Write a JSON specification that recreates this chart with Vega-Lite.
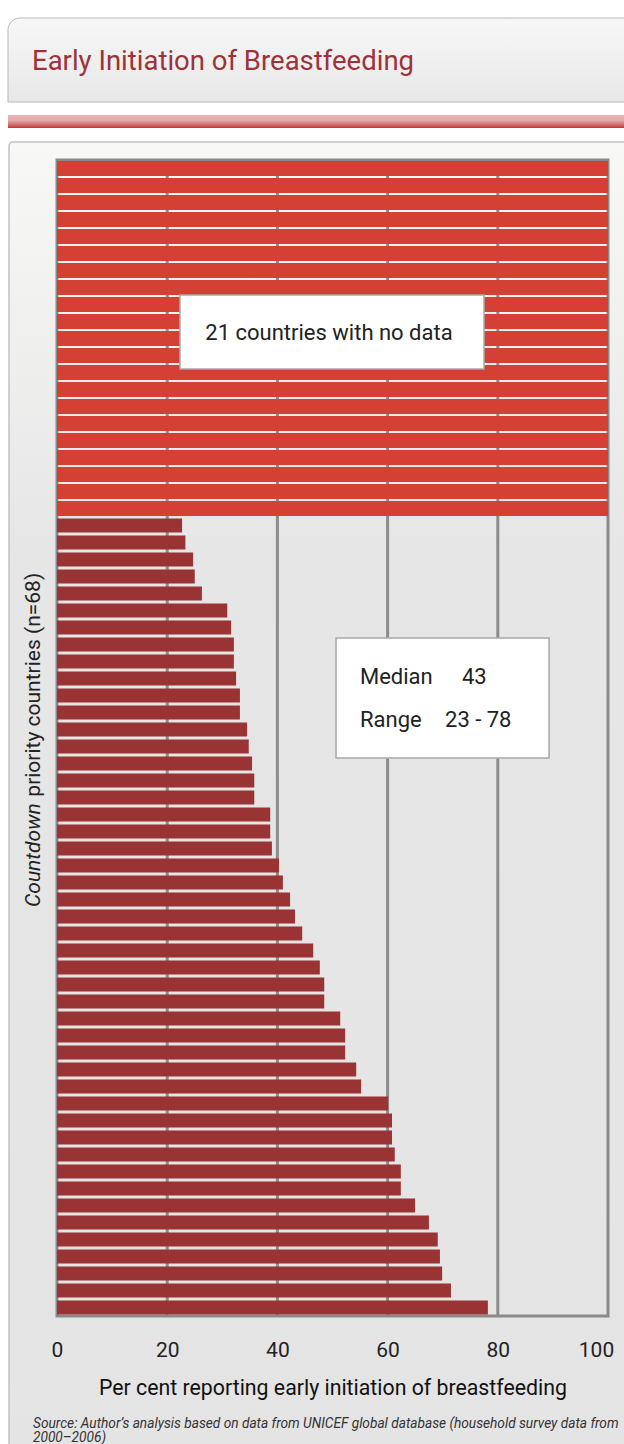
{
  "$schema": "https://vega.github.io/schema/vega-lite/v6.json",
  "width": 551,
  "height": 1156,
  "autosize": {"type": "none"},
  "padding": {"left": 57, "top": 160, "right": 16, "bottom": 128},
  "background": "#ffffff",
  "config": {
    "view": {"stroke": null},
    "font": "Roboto",
    "axisY": {"disable": true},
    "scale": {"continuousPadding": 0}
  },
  "datasets": {
    "countries": [
      {"rank": 1, "value": null}, {"rank": 2, "value": null}, {"rank": 3, "value": null},
      {"rank": 4, "value": null}, {"rank": 5, "value": null}, {"rank": 6, "value": null},
      {"rank": 7, "value": null}, {"rank": 8, "value": null}, {"rank": 9, "value": null},
      {"rank": 10, "value": null}, {"rank": 11, "value": null}, {"rank": 12, "value": null},
      {"rank": 13, "value": null}, {"rank": 14, "value": null}, {"rank": 15, "value": null},
      {"rank": 16, "value": null}, {"rank": 17, "value": null}, {"rank": 18, "value": null},
      {"rank": 19, "value": null}, {"rank": 20, "value": null}, {"rank": 21, "value": null},
      {"rank": 22, "value": 22.7}, {"rank": 23, "value": 23.3}, {"rank": 24, "value": 24.7},
      {"rank": 25, "value": 25.0}, {"rank": 26, "value": 26.3}, {"rank": 27, "value": 30.9},
      {"rank": 28, "value": 31.6}, {"rank": 29, "value": 32.1}, {"rank": 30, "value": 32.1},
      {"rank": 31, "value": 32.5}, {"rank": 32, "value": 33.2}, {"rank": 33, "value": 33.2},
      {"rank": 34, "value": 34.5}, {"rank": 35, "value": 34.8}, {"rank": 36, "value": 35.4},
      {"rank": 37, "value": 35.8}, {"rank": 38, "value": 35.8}, {"rank": 39, "value": 38.7},
      {"rank": 40, "value": 38.7}, {"rank": 41, "value": 39.0}, {"rank": 42, "value": 40.3},
      {"rank": 43, "value": 41.0}, {"rank": 44, "value": 42.3}, {"rank": 45, "value": 43.2},
      {"rank": 46, "value": 44.5}, {"rank": 47, "value": 46.5}, {"rank": 48, "value": 47.7},
      {"rank": 49, "value": 48.5}, {"rank": 50, "value": 48.5}, {"rank": 51, "value": 51.4},
      {"rank": 52, "value": 52.3}, {"rank": 53, "value": 52.3}, {"rank": 54, "value": 54.3},
      {"rank": 55, "value": 55.2}, {"rank": 56, "value": 60.1}, {"rank": 57, "value": 60.8},
      {"rank": 58, "value": 60.8}, {"rank": 59, "value": 61.3}, {"rank": 60, "value": 62.4},
      {"rank": 61, "value": 62.4}, {"rank": 62, "value": 65.0}, {"rank": 63, "value": 67.5},
      {"rank": 64, "value": 69.1}, {"rank": 65, "value": 69.5}, {"rank": 66, "value": 69.9},
      {"rank": 67, "value": 71.5}, {"rank": 68, "value": 78.2}
    ],
    "grid": [{"tick": 20}, {"tick": 40}, {"tick": 60}, {"tick": 80}],
    "one": [{}]
  },
  "layer": [
    {
      "data": {"name": "one"},
      "mark": {
        "type": "rect",
        "stroke": "#b8b8b8",
        "strokeWidth": 1,
        "cornerRadiusTopLeft": 12,
        "fill": {
          "gradient": "linear", "x1": 0, "y1": 0, "x2": 0, "y2": 1,
          "stops": [{"offset": 0, "color": "#f7f7f7"}, {"offset": 1, "color": "#e8e8e8"}]
        }
      },
      "encoding": {
        "x": {"datum": -8.894}, "x2": {"datum": 110},
        "y": {"datum": -7.853, "axis": null}, "y2": {"datum": -2.912}
      }
    },
    {
      "data": {"name": "one"},
      "mark": {
        "type": "rect",
        "fill": {
          "gradient": "linear", "x1": 0, "y1": 0, "x2": 0, "y2": 1,
          "stops": [
            {"offset": 0, "color": "#e8b5b5"},
            {"offset": 0.4, "color": "#e3abab"},
            {"offset": 0.75, "color": "#d06a6a"},
            {"offset": 1, "color": "#c43535"}
          ]
        }
      },
      "encoding": {
        "x": {"datum": -8.894}, "x2": {"datum": 110},
        "y": {"datum": -2.147, "axis": null}, "y2": {"datum": -1.382}
      }
    },
    {
      "data": {"name": "one"},
      "mark": {
        "type": "rect",
        "stroke": "#c2c2c2",
        "strokeWidth": 1.5,
        "cornerRadiusTopLeft": 4,
        "fill": {
          "gradient": "linear", "x1": 0, "y1": 0, "x2": 0, "y2": 1,
          "stops": [
            {"offset": 0, "color": "#f8f8f6"},
            {"offset": 0.1, "color": "#f2f2f1"},
            {"offset": 0.3, "color": "#e6e6e6"},
            {"offset": 1, "color": "#e4e4e4"}
          ]
        }
      },
      "encoding": {
        "x": {"datum": -8.71}, "x2": {"datum": 110},
        "y": {"datum": -0.559, "axis": null}, "y2": {"datum": 80}
      }
    },
    {
      "data": {"name": "grid"},
      "mark": {"type": "rule", "stroke": "#8c8c8c", "strokeWidth": 3},
      "encoding": {
        "x": {"field": "tick", "type": "quantitative"},
        "y": {"datum": 0.5, "axis": null}, "y2": {"datum": 68.5}
      }
    },
    {
      "data": {"name": "one"},
      "mark": {"type": "rect", "fill": "transparent", "stroke": "#8a8a8a", "strokeWidth": 3},
      "encoding": {
        "x": {"datum": 0}, "x2": {"datum": 100},
        "y": {"datum": 0.5, "axis": null}, "y2": {"datum": 68.5}
      }
    },
    {
      "data": {"name": "countries"},
      "transform": [{"filter": "datum.value === null"}],
      "mark": {"type": "bar", "orient": "horizontal", "size": 15, "color": "#d54034"},
      "encoding": {
        "x": {"datum": 100},
        "y": {"field": "rank", "type": "quantitative", "axis": null}
      }
    },
    {
      "data": {"name": "countries"},
      "transform": [{"filter": "datum.value !== null"}],
      "mark": {"type": "bar", "orient": "horizontal", "size": 14, "color": "#993334"},
      "encoding": {
        "x": {
          "field": "value",
          "type": "quantitative",
          "scale": {"domain": [0, 100], "nice": false, "zero": false, "padding": 0},
          "axis": {
            "title": "Per cent reporting early initiation of breastfeeding",
            "values": [0, 20, 40, 60, 80, 100],
            "zindex": 2,
            "grid": false,
            "ticks": false,
            "tickSize": 0,
            "domain": false,
            "labelFlush": false,
            "labelFontSize": 21,
            "labelColor": "#222222",
            "labelPadding": 23,
            "labelFont": "Roboto",
            "labelOffset": {"condition": {"test": "datum.value === 100", "value": -12}, "value": 0},
            "titleFont": "Roboto",
            "titleFontSize": 21.3,
            "titleFontWeight": "normal",
            "titleColor": "#111111",
            "titlePadding": 17
          }
        },
        "y": {
          "field": "rank",
          "type": "quantitative",
          "axis": null,
          "scale": {"domain": [0.5, 68.5], "reverse": true, "nice": false, "zero": false, "padding": 0}
        }
      }
    },
    {
      "data": {"name": "one"},
      "mark": {"type": "rect", "fill": "#ffffff", "stroke": "#a8a8a8", "strokeWidth": 1.5},
      "encoding": {
        "x": {"datum": 22.32}, "x2": {"datum": 77.5},
        "y": {"datum": 8.44, "axis": null}, "y2": {"datum": 12.79}
      }
    },
    {
      "data": {"name": "one"},
      "mark": {"type": "text", "text": "21 countries with no data", "fontSize": 22, "color": "#222222", "align": "center", "baseline": "alphabetic"},
      "encoding": {"x": {"datum": 49.36}, "y": {"datum": 11.09, "axis": null}}
    },
    {
      "data": {"name": "one"},
      "mark": {"type": "rect", "fill": "#ffffff", "stroke": "#a8a8a8", "strokeWidth": 1.5},
      "encoding": {
        "x": {"datum": 50.64}, "x2": {"datum": 89.3},
        "y": {"datum": 28.62, "axis": null}, "y2": {"datum": 35.68}
      }
    },
    {
      "data": {"name": "one"},
      "mark": {"type": "text", "text": "Median", "fontSize": 22, "color": "#222222", "align": "left", "baseline": "alphabetic"},
      "encoding": {"x": {"datum": 54.99}, "y": {"datum": 31.32, "axis": null}}
    },
    {
      "data": {"name": "one"},
      "mark": {"type": "text", "text": "43", "fontSize": 22, "color": "#222222", "align": "left", "baseline": "alphabetic"},
      "encoding": {"x": {"datum": 73.5}, "y": {"datum": 31.32, "axis": null}}
    },
    {
      "data": {"name": "one"},
      "mark": {"type": "text", "text": "Range", "fontSize": 22, "color": "#222222", "align": "left", "baseline": "alphabetic"},
      "encoding": {"x": {"datum": 54.99}, "y": {"datum": 33.85, "axis": null}}
    },
    {
      "data": {"name": "one"},
      "mark": {"type": "text", "text": "23 - 78", "fontSize": 22, "color": "#222222", "align": "left", "baseline": "alphabetic"},
      "encoding": {"x": {"datum": 70.42}, "y": {"datum": 33.85, "axis": null}}
    },
    {
      "data": {"name": "one"},
      "mark": {"type": "text", "text": "Countdown", "fontSize": 21, "fontStyle": "italic", "color": "#222222", "align": "left", "baseline": "alphabetic", "angle": 270},
      "encoding": {"x": {"datum": -3.085}, "y": {"datum": 44.44, "axis": null}}
    },
    {
      "data": {"name": "one"},
      "mark": {"type": "text", "text": "priority countries (n=68)", "fontSize": 21, "color": "#222222", "align": "left", "baseline": "alphabetic", "angle": 270},
      "encoding": {"x": {"datum": -3.085}, "y": {"datum": 37.95, "axis": null}}
    },
    {
      "data": {"name": "one"},
      "mark": {"type": "text", "text": "Early Initiation of Breastfeeding", "fontSize": 27.5, "color": "#9e3238", "align": "left", "baseline": "alphabetic"},
      "encoding": {"x": {"datum": -4.537}, "y": {"datum": -4.794, "axis": null}}
    },
    {
      "data": {"name": "one"},
      "mark": {
        "type": "text",
        "text": ["Source: Author’s analysis based on data from UNICEF global database (household survey data from", "2000–2006)"],
        "fontSize": 13.7, "fontStyle": "italic", "color": "#333333", "align": "left", "baseline": "alphabetic", "lineHeight": 14
      },
      "encoding": {"x": {"datum": -4.356}, "y": {"datum": 75.09, "axis": null}}
    }
  ]
}
